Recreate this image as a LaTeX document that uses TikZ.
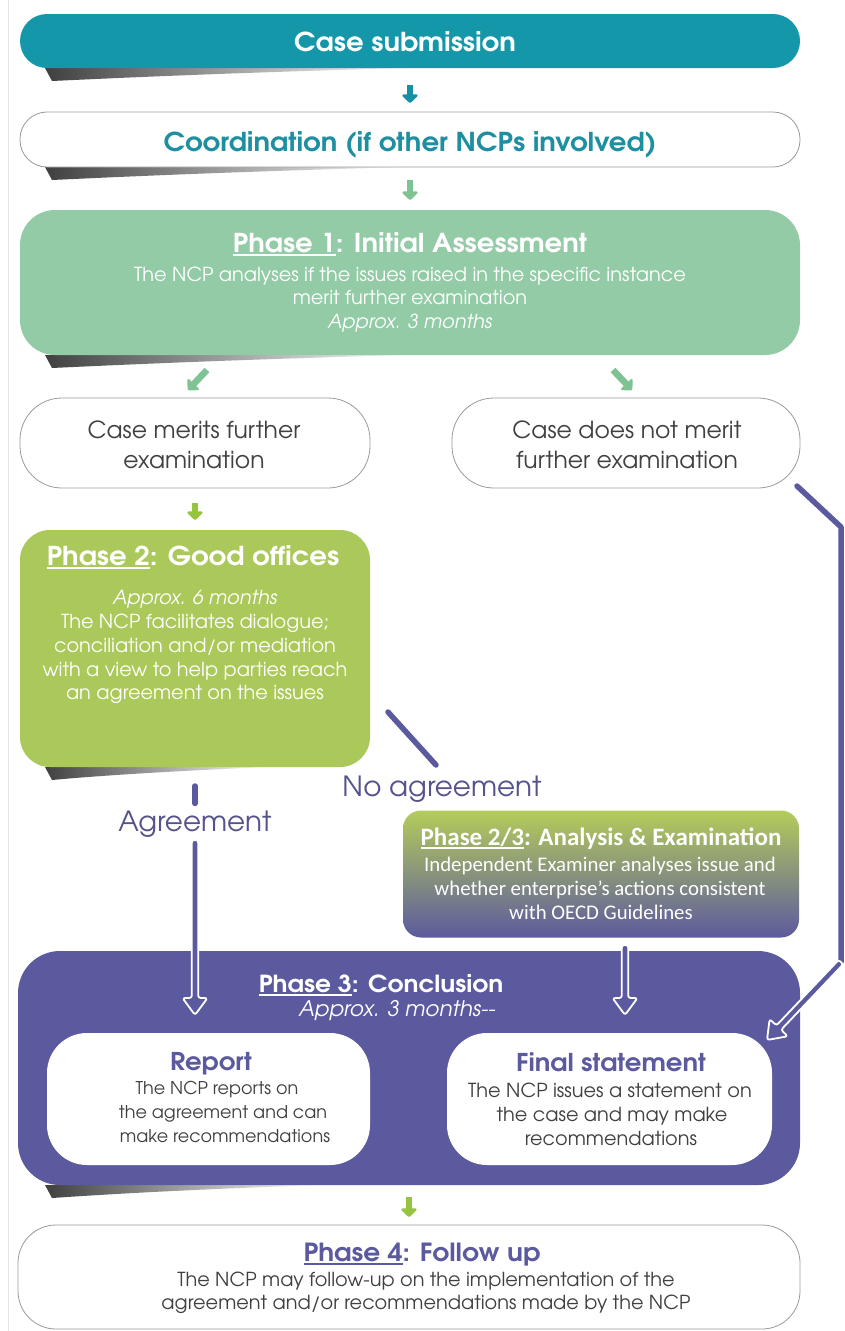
\documentclass[tikz,border=0pt]{standalone}
\usepackage{fontspec}
\setmainfont{texgyreadventor}[Extension=.otf,UprightFont=*-regular,BoldFont=*-bold,ItalicFont=*-italic,BoldItalicFont=*-bolditalic,BoldFeatures={FakeStretch=1.06}]
\newfontfamily\calib{Carlito}
\usetikzlibrary{arrows.meta,calc}
\definecolor{teal1}{HTML}{1497A8}
\definecolor{tealarr}{HTML}{1590A5}
\definecolor{tealtxt}{HTML}{1D8FA0}
\definecolor{mint}{HTML}{93CBA6}
\definecolor{mintarr}{HTML}{7FC293}
\definecolor{lime}{HTML}{ABC95A}
\definecolor{limetop}{HTML}{B4CC5A}
\definecolor{limearr}{HTML}{95C43F}
\definecolor{purp}{HTML}{5C5A9E}
\definecolor{purptxt}{HTML}{55538C}
\definecolor{txtgray}{HTML}{404040}
\definecolor{bordergray}{HTML}{9A9A9A}
\newcommand\myul[1]{\setbox0=\hbox{#1}\rlap{\rule[-4pt]{\wd0}{2.2pt}}#1}
\newcommand\shadowunder[3]{%
  \shade[left color=black!75, right color=white]
    (#1+25,#2) -- (#1+#3,#2) .. controls (#1+0.6*#3,#2+4) and (#1+0.3*#3,#2+9) .. (#1+32,#2+13) -- cycle;}
\tikzset{
  box/.style={rectangle, inner sep=0pt, outer sep=0pt},
  t/.style={inner sep=0pt, outer sep=0pt, anchor=base},
  title/.style={t, font=\fontsize{26}{30}\selectfont\bfseries},
  body/.style={t, font=\fontsize{19.3}{22}\selectfont},
  sbody/.style={t, font=\fontsize{17.6}{20}\selectfont},
  ibody/.style={t, font=\fontsize{19.3}{22}\selectfont\itshape},
  mid/.style={t, font=\fontsize{23.5}{26}\selectfont},
  midb/.style={t, font=\fontsize{24.5}{28}\selectfont\bfseries},
  big/.style={t, font=\fontsize{27.8}{30}\selectfont},
  cbold/.style={t, font=\calib\fontsize{25}{28}\selectfont\bfseries},
  cbody/.style={t, font=\calib\fontsize{20.8}{24}\selectfont},
  chunk/.style={line width=6.5pt, -{Triangle[length=9pt,width=18pt,round]}},
  pline/.style={purp, line width=5.5pt, line cap=round, line join=round},
  harrow/.pic={\filldraw[fill=purp, draw=white, line width=1.8pt, line join=round, rounded corners=2.5pt]
     (-3.2,-#1) -- (-3.2,-17) -- (-12.5,-17) -- (0,0) -- (12.5,-17) -- (3.2,-17) -- (3.2,-#1) -- cycle;},
}
\begin{document}
\begin{tikzpicture}[x=1pt,y=-1pt]
\useasboundingbox (0,0) rectangle (844,1331);
\fill[white] (0,0) rectangle (844,1331);
\draw[gray!20, line width=1pt] (8,0) -- (8,1331);

% shadows
\shadowunder{20}{68}{390}
\shadowunder{20}{167}{390}
\shadowunder{20}{355}{390}
\shadowunder{20}{767}{250}
\shadowunder{20}{1185}{300}

% boxes
\node[box, fill=teal1, rounded corners=27pt, minimum width=780pt, minimum height=54pt] (cs) at (410,41) {};
\node[box, fill=white, draw=bordergray, line width=0.8pt, rounded corners=27pt, minimum width=780pt, minimum height=55pt] (coord) at (410,139.5) {};
\node[box, fill=mint, rounded corners=35pt, minimum width=780pt, minimum height=145pt] (ph1) at (410,282.5) {};
\node[box, fill=white, draw=bordergray, line width=0.8pt, rounded corners=42pt, minimum width=350pt, minimum height=90pt] (merit) at (195,443) {};
\node[box, fill=white, draw=bordergray, line width=0.8pt, rounded corners=42pt, minimum width=348pt, minimum height=90pt] (nomerit) at (626,443) {};
\node[box, fill=lime, rounded corners=30pt, minimum width=350pt, minimum height=237pt] (ph2) at (195,648.5) {};
\node[box, top color=limetop, bottom color=purp, rounded corners=18pt, minimum width=396pt, minimum height=127pt] (ph23) at (601,874) {};
\node[box, fill=purp, rounded corners=42pt, minimum width=782pt, minimum height=234pt] (ph3) at (409,1068) {};
\node[box, fill=white, rounded corners=40pt, minimum width=323pt, minimum height=132pt] (report) at (208.5,1099) {};
\node[box, fill=white, rounded corners=40pt, minimum width=325pt, minimum height=132pt] (fs) at (609.5,1099) {};
\node[box, fill=white, draw=bordergray, line width=0.8pt, rounded corners=38pt, minimum width=782pt, minimum height=104pt] (ph4) at (409,1277) {};

% small chunky arrows
\draw[chunk, tealarr, shorten <=17pt, shorten >=9pt] (cs.south) -- (coord.north);
\draw[chunk, mintarr, shorten <=13pt, shorten >=10pt] (coord.south) -- (ph1.north);
\coordinate (dl1) at (207,370);
\coordinate (dl2) at (188,390);
\coordinate (dr1) at (613,370);
\coordinate (dr2) at (632,390);
\draw[chunk, mintarr] (dl1) -- (dl2);
\draw[chunk, mintarr] (dr1) -- (dr2);
\draw[chunk, limearr, shorten <=15pt, shorten >=10pt] (merit.south) -- (ph2.north);
\draw[chunk, limearr, shorten <=12pt, shorten >=8pt] (ph3.south) -- (ph4.north);

% labels for purple connectors
\node[big, text=purptxt] (nolbl) at (442,796) {No agreement};
\node[big, text=purptxt] (aglbl) at (195,831) {Agreement};

% No agreement slash
\coordinate (na1) at (388,712);
\coordinate (na2) at (436,765);
\draw[pline] (na1) -- (na2);

% Agreement connector
\draw[pline, shorten <=19pt, shorten >=7pt] (ph2.south) -- (aglbl.north);
\pic at ([yshift=18pt]aglbl.south |- report.north) {harrow=175};

% Phase 2/3 to final statement
\coordinate (p23a) at (625,945);
\pic at ([yshift=18pt]p23a |- fs.north) {harrow=70};

% does not merit -> final statement
\coordinate (r1) at (841,527);
\coordinate (r2) at (841,962);
\coordinate (r3) at (767,1040);
\draw[pline] ([shift={(-3,-2)}]nomerit.south east) -- (r1) -- (r2);
\pic[rotate=-43.5] at (r3) {harrow=107.5};

% texts
\node[title, text=white] (tcs) at (405,51) {Case submission};
\node[title, text=tealtxt] (tco) at (410,151) {Coordination (if other NCPs involved)};

\node[title, text=white] (tp1) at (410,252) {\myul{Phase 1}: Initial Assessment};
\node[body, text=white] (tp1a) at (410,281) {The NCP analyses if the issues raised in the specific instance};
\node[body, text=white] (tp1b) at (410,304) {merit further examination};
\node[ibody, text=white] (tp1c) at (410,328) {Approx. 3 months};

\node[mid, text=txtgray] (tm1) at (194,438.5) {Case merits further};
\node[mid, text=txtgray] (tm2) at (194,468.5) {examination};
\node[mid, text=txtgray] (tn1) at (627,438.5) {Case does not merit};
\node[mid, text=txtgray] (tn2) at (627,468.5) {further examination};

\node[title, text=white] (tp2) at (193,565) {\myul{Phase 2}: Good offices};
\node[ibody, text=white] (tp2a) at (195,604) {Approx. 6 months};
\node[body, text=white] (tp2b) at (195,628) {The NCP facilitates dialogue;};
\node[body, text=white] (tp2c) at (195,652) {conciliation and/or mediation};
\node[body, text=white] (tp2d) at (195,676) {with a view to help parties reach};
\node[body, text=white] (tp2e) at (195,699) {an agreement on the issues};

\node[cbold, text=white] (tp23) at (601,845) {\myul{Phase 2/3}: Analysis \& Examination};
\node[cbody, text=white] (tp23a) at (600,871) {Independent Examiner analyses issue and};
\node[cbody, text=white] (tp23b) at (600,895) {whether enterprise’s actions consistent};
\node[cbody, text=white] (tp23c) at (601,919) {with OECD Guidelines};

\node[title, text=white, font=\fontsize{23.5}{28}\selectfont\bfseries] (tp3) at (381,992) {\myul{Phase 3}: Conclusion};
\node[ibody, text=white, font=\fontsize{21.4}{24}\selectfont\itshape] (tp3a) at (397,1016) {Approx. 3 months-{}-};

\node[midb, text=purp] (trp) at (211,1070) {Report};
\node[sbody, text=txtgray] (trp1) at (217,1094) {The NCP reports on};
\node[sbody, text=txtgray] (trp2) at (223,1118) {the agreement and can};
\node[sbody, text=txtgray] (trp3) at (225,1142) {make recommendations};

\node[midb, text=purp] (tfs) at (611,1071) {Final statement};
\node[body, text=txtgray] (tfs1) at (610,1097) {The NCP issues a statement on};
\node[body, text=txtgray] (tfs2) at (612,1121) {the case and may make};
\node[body, text=txtgray] (tfs3) at (611,1145) {recommendations};

\node[title, text=purp, font=\fontsize{25}{28}\selectfont\bfseries] (tp4) at (422,1261) {\myul{Phase 4}: Follow up};
\node[body, text=txtgray] (tp4a) at (426,1286) {The NCP may follow-up on the implementation of the};
\node[body, text=txtgray] (tp4b) at (426,1309) {agreement and/or recommendations made by the NCP};
\end{tikzpicture}
\end{document}
